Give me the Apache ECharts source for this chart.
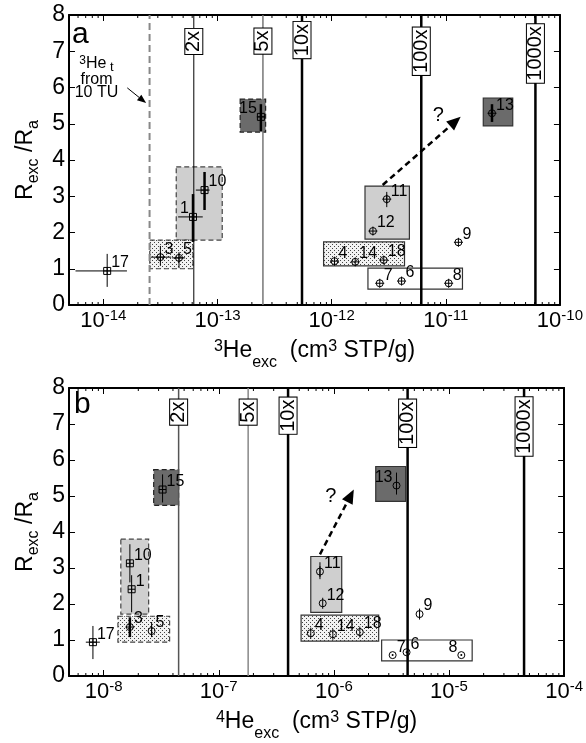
<!DOCTYPE html>
<html>
<head>
<meta charset="utf-8">
<script src="https://cdn.jsdelivr.net/npm/echarts@6/dist/echarts.min.js"></script>
<style>
html, body { margin: 0; padding: 0; background: #fff; }
#chart { width: 586px; height: 743px; }
</style>
</head>
<body>
<div id="chart"></div>
<script>
// axis ranges
var xRangeA = [5e-15, 1e-10];
var xRangeB = [5e-9, 1e-4];
var yRange = [0, 8];

// samples: [label, x, y, xLo, xHi, yLo, yHi]  (null = no error bar)
var pointsA = [
    ['17', 1.08e-14, 0.94, 5.7e-15, 1.61e-14, 0.5, 1.41],
    ['3', 3.16e-14, 1.32, 2.6e-14, 3.93e-14, 1.08, 1.63],
    ['5', 4.6e-14, 1.3, 4.0e-14, 5.2e-14, 1.02, 1.46],
    ['1', 6.1e-14, 2.43, 4.52e-14, 7.43e-14, 1.74, 3.06],
    ['10', 7.7e-14, 3.17, 6.46e-14, 8.53e-14, 2.62, 3.67],
    ['15', 2.4e-13, 5.19, 2.21e-13, 2.6e-13, 4.8, 5.54],
    ['11', 3.04e-12, 2.92, null, null, 2.7, 3.12],
    ['12', 2.3e-12, 2.04, null, null, null, null],
    ['4', 1.06e-12, 1.21, null, null, null, null],
    ['14', 1.61e-12, 1.19, null, null, null, null],
    ['18', 2.86e-12, 1.24, null, null, null, null],
    ['7', 2.64e-12, 0.6, null, null, null, null],
    ['6', 4.1e-12, 0.66, null, null, null, null],
    ['8', 1.06e-11, 0.6, null, null, null, null],
    ['9', 1.29e-11, 1.73, null, null, null, null],
    ['13', 2.54e-11, 5.29, null, null, 5.05, 5.54]
];
var pointsB = [
    ['17', 8.07e-9, 0.94, 7.0e-9, 9.27e-9, 0.47, 1.39],
    ['3', 1.69e-8, 1.36, null, null, 1.08, 1.63],
    ['5', 2.61e-8, 1.25, null, null, 1.08, 1.5],
    ['10', 1.69e-8, 3.13, null, null, 2.6, 3.66],
    ['1', 1.75e-8, 2.41, null, null, 1.77, 2.8],
    ['15', 3.25e-8, 5.18, null, null, 4.82, 5.6],
    ['13', 3.5e-6, 5.29, null, null, 5.04, 5.65],
    ['11', 7.57e-7, 2.9, null, null, 2.69, 3.16],
    ['12', 8.0e-7, 2.02, null, null, null, null],
    ['4', 6.3e-7, 1.19, null, null, null, null],
    ['14', 9.8e-7, 1.16, null, null, null, null],
    ['18', 1.68e-6, 1.22, null, null, null, null],
    ['9', 5.55e-6, 1.72, null, null, null, null],
    ['7', 3.24e-6, 0.58, null, null, null, null],
    ['6', 4.28e-6, 0.66, null, null, null, null],
    ['8', 1.28e-5, 0.58, null, null, null, null]
];

// sample groups: [x1, x2, y1, y2]
var groupsA = [
    [1.58e-13, 2.64e-13, 4.77, 5.68],
    [4.35e-14, 1.1e-13, 1.79, 3.81],
    [2.55e-14, 6.1e-14, 1.0, 1.79],
    [1.96e-12, 4.8e-12, 1.82, 3.28],
    [8.5e-13, 4.35e-12, 1.08, 1.74],
    [2.08e-12, 1.4e-11, 0.44, 1.02],
    [2.13e-11, 3.86e-11, 4.94, 5.71]
];
var groupsB = [
    [2.72e-8, 4.48e-8, 4.74, 5.73],
    [1.41e-8, 2.46e-8, 1.72, 3.8],
    [1.33e-8, 3.74e-8, 0.94, 1.66],
    [6.3e-7, 1.17e-6, 1.77, 3.32],
    [5.19e-7, 2.45e-6, 0.97, 1.69],
    [2.6e-6, 1.59e-5, 0.42, 1.0],
    [2.31e-6, 4.2e-6, 4.85, 5.82]
];

// enrichment lines
var enrichTags = ['2x', '5x', '10x', '100x', '1000x'];
var enrichA = [6.2e-14, 2.5e-13, 5.5e-13, 6.1e-12, 6.1e-11];
var enrichB = [4.48e-8, 1.8e-7, 4.0e-7, 4.37e-6, 4.49e-5];
var tagYA = [7.27, 7.28, 7.31, 7.0, 6.94];
var tagYB = [7.33, 7.33, 7.23, 7.02, 6.93];

// tritiogenic 3He from 10 TU
var tritiumA = 2.54e-14;
var tritiumNote = [8.7e-15, 6.23];
var tritiumArrow = [[1.62e-14, 5.99], [2.37e-14, 5.57]];

// "?" trend arrows
var trendA = [[2.8e-12, 3.31], [1.35e-11, 5.19]];
var trendB = [[7.57e-7, 3.38], [1.49e-6, 5.18]];
var queryA = [8.6e-12, 5.24];
var queryB = [9.4e-7, 4.99];

var FONT = 'Liberation Sans, Arial, Helvetica, sans-serif';

var groupKind = ['darkDash', 'lightDash', 'dotsDash', 'light', 'dots', 'plain', 'dark'];
var marksA = { '17': 'square', '1': 'square', '10': 'square', '15': 'square' };
var marksB = { '17': 'square', '1': 'square', '10': 'square', '15': 'square', '3': 'plus', '7': 'dot', '6': 'dot', '8': 'dot' };
var thickA = ['1', '10', '15', '13'];
var thickB = ['3'];
var leftA = ['1', '15'];
var leftB = ['13', '8'];

// stipple fill
var dots = document.createElement('canvas');
dots.width = 4; dots.height = 4;
var g2 = dots.getContext('2d');
g2.fillStyle = '#f2f2f2'; g2.fillRect(0, 0, 4, 4);
g2.fillStyle = '#444'; g2.fillRect(0, 0, 1, 1); g2.fillRect(2, 2, 1, 1);
var dotFill = { image: dots, repeat: 'repeat' };

var groupStyle = {
    darkDash: { fill: '#6b6b6b', stroke: '#222', dash: [5, 3] },
    lightDash: { fill: '#cfcfcf', stroke: '#444', dash: [5, 3] },
    dotsDash: { fill: dotFill, stroke: '#444', dash: [5, 3] },
    light: { fill: '#cfcfcf', stroke: '#333', dash: null },
    dots: { fill: dotFill, stroke: '#333', dash: null },
    plain: { fill: '#fff', stroke: '#333', dash: null },
    dark: { fill: '#6b6b6b', stroke: '#333', dash: null }
};
var enrichStyleA = [['#000', 1], ['#777', 1.5], ['#000', 2.5], ['#000', 2.5], ['#000', 2.5]];
var enrichStyleB = [['#555', 1.5], ['#888', 1.5], ['#000', 2.5], ['#000', 2.5], ['#000', 2.5]];

function minorTicks(range) {
    var out = [];
    for (var e = Math.floor(Math.log10(range[0])); e < Math.log10(range[1]); e++) {
        for (var m = 2; m <= 9; m++) {
            var v = m * Math.pow(10, e);
            if (v > range[0] * 1.0001 && v < range[1]) out.push([v, 0]);
        }
    }
    return out;
}

function seg(x1, y1, x2, y2, w, color, dash) {
    return { type: 'line', shape: { x1: x1, y1: y1, x2: x2, y2: y2 },
        style: { stroke: color || '#000', lineWidth: w, lineDash: dash || null } };
}

function powLabel(v) {
    var e = Math.log10(v);
    var n = Math.round(e);
    if (Math.abs(e - n) > 1e-6) return '';
    return '{b|10}{e|-' + Math.abs(n) + '}';
}

function xAxes(gi, range, title) {
    return [{
        gridIndex: gi, type: 'log', min: range[0], max: range[1], position: 'bottom',
        axisLine: { onZero: false, lineStyle: { color: '#000', width: 2 } },
        axisTick: { inside: true, length: 6, lineStyle: { color: '#000', width: 1 } },
        splitLine: { show: false },
        axisLabel: {
            color: '#000', margin: 3, fontSize: 22, fontFamily: FONT, formatter: powLabel, showMinLabel: false,
            rich: {
                b: { fontSize: 22, fontFamily: FONT, lineHeight: 25, color: '#000' },
                e: { fontSize: 15, fontFamily: FONT, lineHeight: 13, verticalAlign: 'top', color: '#000' }
            }
        },
        name: title, nameLocation: 'middle', nameGap: 34,
        nameTextStyle: {
            color: '#000', fontSize: 23, fontFamily: FONT,
            rich: {
                t: { fontSize: 23, fontFamily: FONT, lineHeight: 26, verticalAlign: 'top', color: '#000' },
                s: { fontSize: 16, fontFamily: FONT, lineHeight: 12, verticalAlign: 'top', color: '#000' },
                u: { fontSize: 16, fontFamily: FONT, lineHeight: 48, color: '#000' }
            }
        }
    }, {
        gridIndex: gi, type: 'log', min: range[0], max: range[1], position: 'top',
        axisLine: { onZero: false, lineStyle: { color: '#000', width: 2 } },
        axisTick: { inside: true, length: 6, lineStyle: { color: '#000', width: 1 } },
        axisLabel: { show: false }, splitLine: { show: false }
    }];
}

function yAxes(gi) {
    return [{
        gridIndex: gi, type: 'value', min: yRange[0], max: yRange[1], interval: 1, position: 'left',
        axisLine: { onZero: false, lineStyle: { color: '#000', width: 2 } },
        axisTick: { inside: true, length: 6, lineStyle: { color: '#000', width: 1 } },
        splitLine: { show: false },
        axisLabel: { color: '#000', fontSize: 23, fontFamily: FONT, margin: 4 },
        name: '{t|R}{u|exc}{t| /R}{u|a}', nameLocation: 'middle', nameGap: 8, nameRotate: 90,
        nameTextStyle: {
            color: '#000', fontSize: 23, fontFamily: FONT,
            rich: {
                t: { fontSize: 23, fontFamily: FONT, lineHeight: 26, verticalAlign: 'top', color: '#000' },
                u: { fontSize: 16, fontFamily: FONT, lineHeight: 39, color: '#000' }
            }
        }
    }, {
        gridIndex: gi, type: 'value', min: yRange[0], max: yRange[1], interval: 1, position: 'right',
        axisLine: { onZero: false, lineStyle: { color: '#000', width: 2 } },
        axisTick: { inside: true, length: 6, lineStyle: { color: '#000', width: 1 } },
        axisLabel: { show: false }, splitLine: { show: false }
    }];
}

function panelSeries(gi, groups, enrich, enrichStyle, tagY, tracer, points, marks, thick, leftSide, trend, query, range) {
    var ax = { xAxisIndex: gi * 2, yAxisIndex: gi * 2 };
    var list = [];
    // sample groups
    list.push(Object.assign({
        type: 'custom', z: 1, silent: true,
        data: groups.map(function (b) { return [b[0], b[2]]; }),
        renderItem: function (params, api) {
            var b = groups[params.dataIndex];
            var p0 = api.coord([b[0], b[3]]);
            var p1 = api.coord([b[1], b[2]]);
            var k = groupStyle[groupKind[params.dataIndex]];
            return { type: 'rect', shape: { x: p0[0], y: p0[1], width: p1[0] - p0[0], height: p1[1] - p0[1] },
                style: { fill: k.fill, stroke: k.stroke, lineWidth: 1.2, lineDash: k.dash } };
        }
    }, ax));
    // tracer line (panel a only)
    if (tracer) {
        list.push(Object.assign({
            type: 'custom', z: 2, silent: true,
            data: [[tracer.x, 1]],
            renderItem: function (params, api) {
                var lo = api.coord([tracer.x, yRange[0]]);
                var hi = api.coord([tracer.x, yRange[1]]);
                var t = api.coord(tracer.note);
                var a0 = api.coord(tracer.arrow[0]);
                var a1 = api.coord(tracer.arrow[1]);
                var ang = Math.atan2(a1[1] - a0[1], a1[0] - a0[0]);
                var L = 9, W = 3.5;
                var bx = a1[0] - L * Math.cos(ang), by = a1[1] - L * Math.sin(ang);
                var txt = function (s, dy, rich) {
                    return { type: 'text', x: t[0], y: t[1] + dy,
                        style: { text: s, fontSize: 16, fontFamily: FONT, fill: '#000', align: 'center', verticalAlign: 'middle', rich: rich } };
                };
                return { type: 'group', children: [
                    seg(lo[0], lo[1], hi[0], hi[1], 2, '#888', [7, 4]),
                    seg(a0[0], a0[1], bx, by, 1, '#000'),
                    { type: 'polygon', shape: { points: [a1, [bx + W * Math.sin(ang), by - W * Math.cos(ang)], [bx - W * Math.sin(ang), by + W * Math.cos(ang)]] }, style: { fill: '#000' } },
                    txt('{s|3}{n|He}{u| t}', -12, {
                        s: { fontSize: 12, fontFamily: FONT, lineHeight: 9, verticalAlign: 'top' },
                        n: { fontSize: 16, fontFamily: FONT, lineHeight: 18, verticalAlign: 'top' },
                        u: { fontSize: 13, fontFamily: FONT, lineHeight: 24 }
                    }),
                    txt('from', 0),
                    txt('10 TU', 13)
                ] };
            }
        }, ax));
    }
    // enrichment lines
    list.push(Object.assign({
        type: 'custom', z: 3, silent: true,
        data: enrich.map(function (v) { return [v, 1]; }),
        renderItem: function (params, api) {
            var v = enrich[params.dataIndex];
            var st = enrichStyle[params.dataIndex];
            var lo = api.coord([v, yRange[0]]);
            var hi = api.coord([v, yRange[1]]);
            return seg(lo[0], lo[1], hi[0], hi[1], st[1], st[0]);
        }
    }, ax));
    // trend arrow
    list.push(Object.assign({
        type: 'custom', z: 4, silent: true,
        data: [trend[0]],
        renderItem: function (params, api) {
            var a = api.coord(trend[0]), b = api.coord(trend[1]);
            var q = api.coord(query);
            var ang = Math.atan2(b[1] - a[1], b[0] - a[0]);
            var L = 14, W = 6;
            var bx = b[0] - L * Math.cos(ang), by = b[1] - L * Math.sin(ang);
            return { type: 'group', children: [
                seg(a[0], a[1], bx, by, 2.5, '#000', [6, 4]),
                { type: 'polygon', shape: { points: [b, [bx + W * Math.sin(ang), by - W * Math.cos(ang)], [bx - W * Math.sin(ang), by + W * Math.cos(ang)]] }, style: { fill: '#000' } },
                { type: 'text', x: q[0], y: q[1], style: { text: '?', fontSize: 20, fontFamily: FONT, fill: '#000', align: 'center', verticalAlign: 'middle' } }
            ] };
        }
    }, ax));
    // enrichment tags
    list.push(Object.assign({
        type: 'custom', z: 5, silent: true,
        data: enrich.map(function (v, i) { return [v, tagY[i]]; }),
        renderItem: function (params, api) {
            var c = api.coord([enrich[params.dataIndex], tagY[params.dataIndex]]);
            return { type: 'text', x: c[0], y: c[1], rotation: Math.PI / 2,
                style: { text: enrichTags[params.dataIndex], fontSize: 20, fontFamily: FONT, fill: '#000',
                    align: 'center', verticalAlign: 'middle', lineHeight: 16,
                    backgroundColor: '#fff', borderColor: '#000', borderWidth: 1, padding: [1, 2, 0, 2] } };
        }
    }, ax));
    // samples
    list.push(Object.assign({
        type: 'custom', z: 6, silent: true,
        data: points.map(function (p) { return [p[1], p[2]]; }),
        renderItem: function (params, api) {
            var p = points[params.dataIndex];
            var c = api.coord([p[1], p[2]]);
            var kids = [];
            var r = 3.5;
            if (p[3] != null) {
                var l = api.coord([p[3], p[2]]), rr = api.coord([p[4], p[2]]);
                kids.push(seg(l[0], c[1], rr[0], c[1], 1));
            }
            if (p[5] != null) {
                var lo = api.coord([p[1], p[5]]), hi = api.coord([p[1], p[6]]);
                kids.push(seg(c[0], lo[1], c[0], hi[1], thick.indexOf(p[0]) >= 0 ? 2.5 : 1));
            }
            var m = marks[p[0]] || (gi === 0 ? 'plus' : 'bar');
            if (m === 'square') {
                kids.push({ type: 'rect', shape: { x: c[0] - r, y: c[1] - r, width: 2 * r, height: 2 * r }, style: { fill: 'none', stroke: '#000', lineWidth: 1 } });
                kids.push(seg(c[0] - r, c[1], c[0] + r, c[1], 1));
                kids.push(seg(c[0], c[1] - r, c[0], c[1] + r, 1));
            } else {
                kids.push({ type: 'circle', shape: { cx: c[0], cy: c[1], r: r }, style: { fill: 'none', stroke: '#000', lineWidth: 1 } });
                if (m === 'plus') {
                    kids.push(seg(c[0] - r - 1, c[1], c[0] + r + 1, c[1], 1));
                    kids.push(seg(c[0], c[1] - r - 1, c[0], c[1] + r + 1, 1));
                } else if (m === 'bar') {
                    kids.push(seg(c[0], c[1] - r - 2, c[0], c[1] + r + 2, 1));
                } else if (m === 'dot') {
                    kids.push({ type: 'circle', shape: { cx: c[0], cy: c[1], r: 1 }, style: { fill: '#000' } });
                }
            }
            var left = leftSide.indexOf(p[0]) >= 0;
            kids.push({ type: 'text', x: c[0] + (left ? -4 : 4), y: c[1] - 8,
                style: { text: p[0], fontSize: 16, fontFamily: FONT, fill: '#000', align: left ? 'right' : 'left', verticalAlign: 'middle' } });
            return { type: 'group', children: kids };
        }
    }, ax));
    // minor log ticks, bottom and top edges
    var minors = minorTicks(range);
    list.push(Object.assign({
        type: 'custom', z: 7, silent: true,
        data: minors,
        renderItem: function (params, api) {
            var v = minors[params.dataIndex][0];
            var b = api.coord([v, yRange[0]]);
            var t = api.coord([v, yRange[1]]);
            return { type: 'group', children: [
                seg(b[0], b[1], b[0], b[1] - 3, 1),
                seg(t[0], t[1], t[0], t[1] + 3, 1)
            ] };
        }
    }, ax));
    return list;
}

var chart = echarts.init(document.getElementById('chart'));
chart.setOption({
    animation: false,
    backgroundColor: '#fff',
    grid: [
        { left: 69, top: 15, width: 497, height: 290 },
        { left: 69, top: 388, width: 497, height: 289 }
    ],
    xAxis: xAxes(0, xRangeA, '{s|3}{t|He}{u|exc}{t|  (cm}{s|3}{t| STP/g)}')
        .concat(xAxes(1, xRangeB, '{s|4}{t|He}{u|exc}{t|  (cm}{s|3}{t| STP/g)}')),
    yAxis: yAxes(0).concat(yAxes(1)),
    graphic: [
        { type: 'text', left: 72, top: 20, style: { text: 'a', fontSize: 30, fontFamily: FONT, fill: '#000' } },
        { type: 'text', left: 74, top: 390, style: { text: 'b', fontSize: 30, fontFamily: FONT, fill: '#000' } }
    ],
    series: panelSeries(0, groupsA, enrichA, enrichStyleA, tagYA,
            { x: tritiumA, note: tritiumNote, arrow: tritiumArrow },
            pointsA, marksA, thickA, leftA, trendA, queryA, xRangeA)
        .concat(panelSeries(1, groupsB, enrichB, enrichStyleB, tagYB, null,
            pointsB, marksB, thickB, leftB, trendB, queryB, xRangeB))
});
</script>
</body>
</html>
